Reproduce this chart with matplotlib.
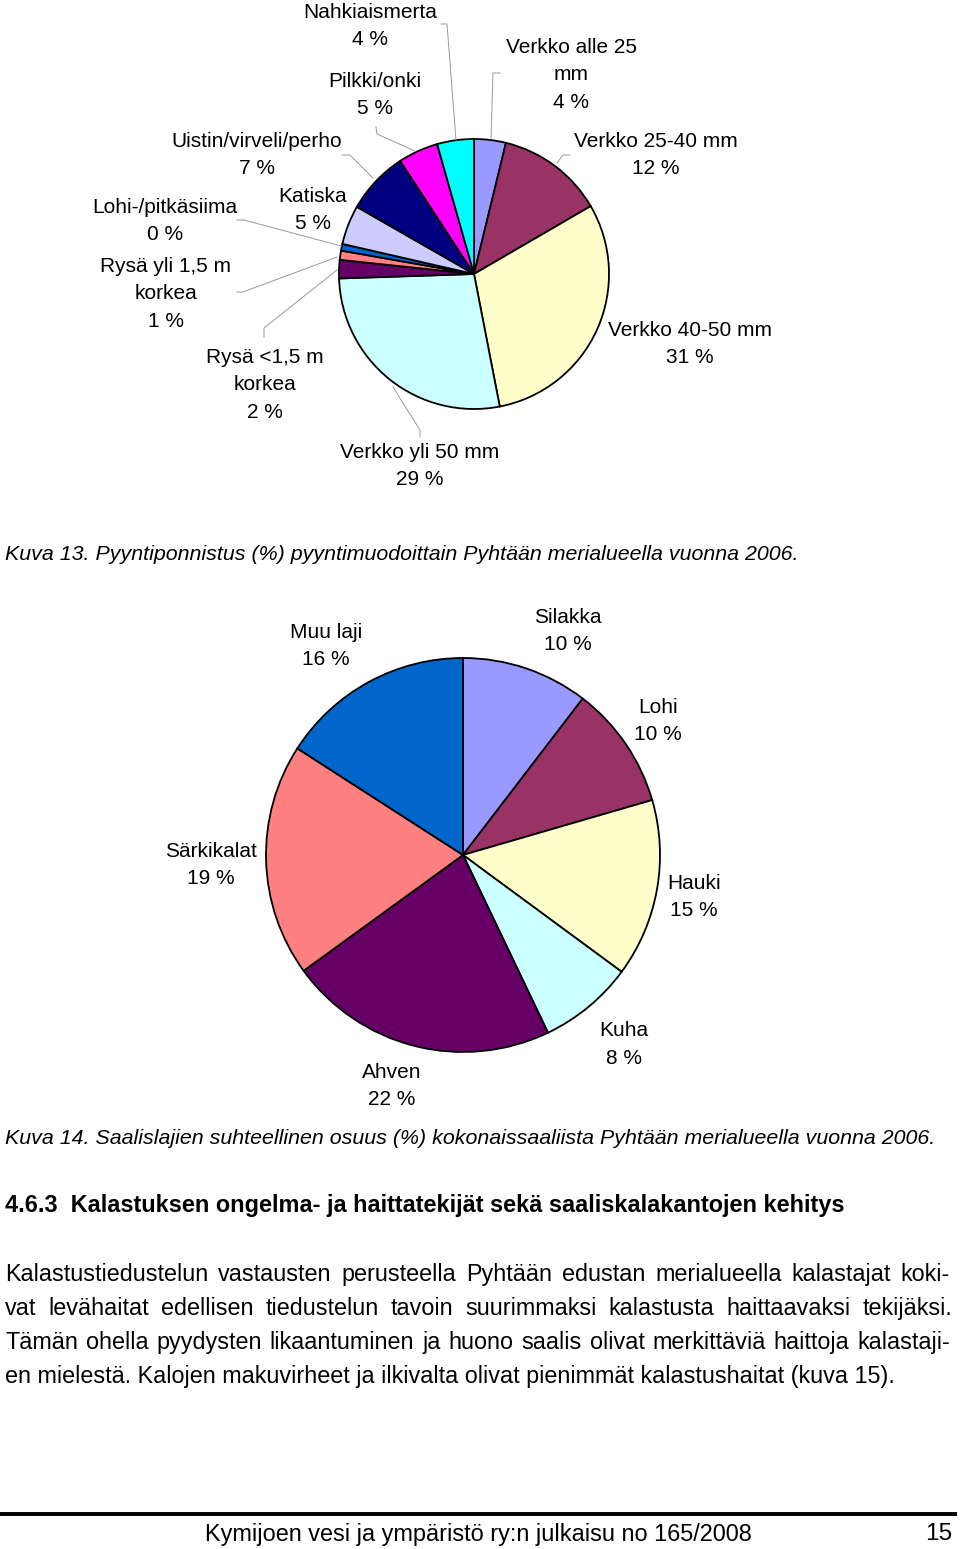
import matplotlib
matplotlib.use('Agg')
import matplotlib.pyplot as plt
from matplotlib import font_manager

W, H = 960, 1549

# Kuva 13: pyyntiponnistus pyyntimuodoittain (clockwise from 12 o'clock)
gear_names = ['Verkko alle 25\nmm', 'Verkko 25-40 mm', 'Verkko 40-50 mm', 'Verkko yli 50 mm',
              'Rysä <1,5 m\nkorkea', 'Rysä yli 1,5 m\nkorkea', 'Lohi-/pitkäsiima', 'Katiska',
              'Uistin/virveli/perho', 'Pilkki/onki', 'Nahkiaismerta']
gear_share = [3.8, 12.8, 30.3, 27.5, 2.2, 1.1, 0.8, 4.7, 7.5, 4.8, 4.4]
gear_pct = [4, 12, 31, 29, 2, 1, 0, 5, 7, 5, 4]
gear_colors = ['#9999FF', '#993366', '#FFFFCC', '#CCFFFF', '#660066', '#FF8080',
               '#0066CC', '#CCCCFF', '#000080', '#FF00FF', '#00FFFF']

# Kuva 14: saalislajien osuus
fish_names = ['Silakka', 'Lohi', 'Hauki', 'Kuha', 'Ahven', 'Särkikalat', 'Muu laji']
fish_share = [10.4, 10.1, 14.6, 7.8, 22.1, 19.1, 15.9]
fish_pct = [10, 10, 15, 8, 22, 19, 16]
fish_colors = ['#9999FF', '#993366', '#FFFFCC', '#CCFFFF', '#660066', '#FF8080', '#0066CC']

# label placement in page pixels (x centre, y of first line)
gear_label_pos = [(571, 45), (656, 139), (690, 328), (420, 450), (265, 355), (166, 264),
                  (165, 205), (313, 194), (257, 139), (375, 79), (370, 10)]
gear_leaders = [[(500, 73), (493, 73), (491, 139)],
                [(570, 155), (563, 155), (557, 163)],
                None,
                [(420, 437), (420, 430), (393, 387)],
                [(264, 337), (264, 328), (337, 270)],
                [(237, 292), (243, 292), (337, 257)],
                [(237, 220), (244, 220), (341, 246)],
                None,
                [(342, 155), (350, 155), (373, 178)],
                [(376, 127), (377, 134), (415, 151)],
                [(441, 24), (447, 24), (456, 140)]]
fish_label_pos = [(568, 615), (658, 705), (694, 881), (624, 1029), (392, 1070), (211, 849), (326, 630)]

body_lines = ['Kalastustiedustelun vastausten perusteella Pyhtään edustan merialueella kalastajat koki-',
              'vat levähaitat edellisen tiedustelun tavoin suurimmaksi kalastusta haittaavaksi tekijäksi.',
              'Tämän ohella pyydysten likaantuminen ja huono saalis olivat merkittäviä haittoja kalastaji-',
              'en mielestä. Kalojen makuvirheet ja ilkivalta olivat pienimmät kalastushaitat (kuva 15).']

names = {f.name for f in font_manager.fontManager.ttflist}
narrow = 'Liberation Sans Narrow' if 'Liberation Sans Narrow' in names else 'Liberation Sans'
label_font = 'Liberation Sans'


def Y(py):
    return H - py


def base(py, size):
    # baseline for a line whose visual centre is at page pixel py
    return Y(py + 0.36 * size * 100 / 72)


fig = plt.figure(figsize=(W / 100, H / 100), dpi=100)
ax = fig.add_axes([0, 0, 1, 1])
r = fig.canvas.get_renderer()

wp = dict(edgecolor='black', linewidth=1.3)
ax.pie(gear_share, colors=gear_colors, startangle=90, counterclock=False,
       center=(474, Y(274)), radius=135, wedgeprops=wp)
ax.pie(fish_share, colors=fish_colors, startangle=90, counterclock=False,
       center=(463, Y(855)), radius=197, wedgeprops=wp)

ax.set_xlim(0, W)
ax.set_ylim(0, H)
ax.set_aspect('auto')
ax.axis('off')

pitch = 27.5
for name, pct, (x, y), lead in zip(gear_names, gear_pct, gear_label_pos, gear_leaders):
    lines = name.split('\n') + [f'{pct} %']
    for i, s in enumerate(lines):
        ax.text(x, base(y + i * pitch, 15), s, ha='center', va='baseline', fontsize=15, family=label_font)
    if lead:
        ax.plot([p[0] for p in lead], [Y(p[1]) for p in lead], color='#9a9a9a', lw=0.7)

for name, pct, (x, y) in zip(fish_names, fish_pct, fish_label_pos):
    for i, s in enumerate([name, f'{pct} %']):
        ax.text(x, base(y + i * pitch, 15), s, ha='center', va='baseline', fontsize=15, family=label_font)


def fit(x, y, s, width, **kw):
    t = ax.text(x, Y(y), s, fontsize=10, va='baseline', **kw)
    w = t.get_window_extent(r).width
    size = 10 * width / w
    t.set_fontsize(size)
    t.set_y(base(y, size))
    return t


def justify(y, s, x0, x1, size, family):
    words = s.split(' ')
    ts = [ax.text(0, base(y, size), w, fontsize=size, family=family, va='baseline') for w in words]
    widths = [t.get_window_extent(r).width for t in ts]
    gap = (x1 - x0 - sum(widths)) / (len(words) - 1)
    x = x0
    for t, w in zip(ts, widths):
        t.set_x(x)
        x += w + gap


fit(5, 552, 'Kuva 13. Pyyntiponnistus (%) pyyntimuodoittain Pyhtään merialueella vuonna 2006.',
    795, family=narrow, style='italic')
fit(5, 1136, 'Kuva 14. Saalislajien suhteellinen osuus (%) kokonaissaaliista Pyhtään merialueella vuonna 2006.',
    932, family=narrow, style='italic')
fit(5, 1204, '4.6.3  Kalastuksen ongelma- ja haittatekijät sekä saaliskalakantojen kehitys',
    840, family=narrow, weight='bold')

last = fit(5, 1375, body_lines[3], 893, family=narrow)
size = last.get_fontsize()
justify(1273, body_lines[0], 5, 950, size, narrow)
justify(1307, body_lines[1], 5, 952, size, narrow)
justify(1341, body_lines[2], 5, 950, size, narrow)

ax.hlines(Y(1514), 0, 957, color='black', lw=2.8)
fit(205, 1533, 'Kymijoen vesi ja ympäristö ry:n julkaisu no 165/2008', 547, family=narrow)
fit(925, 1531, '15', 27, family=narrow)

fig.savefig('out.png', dpi=100)
